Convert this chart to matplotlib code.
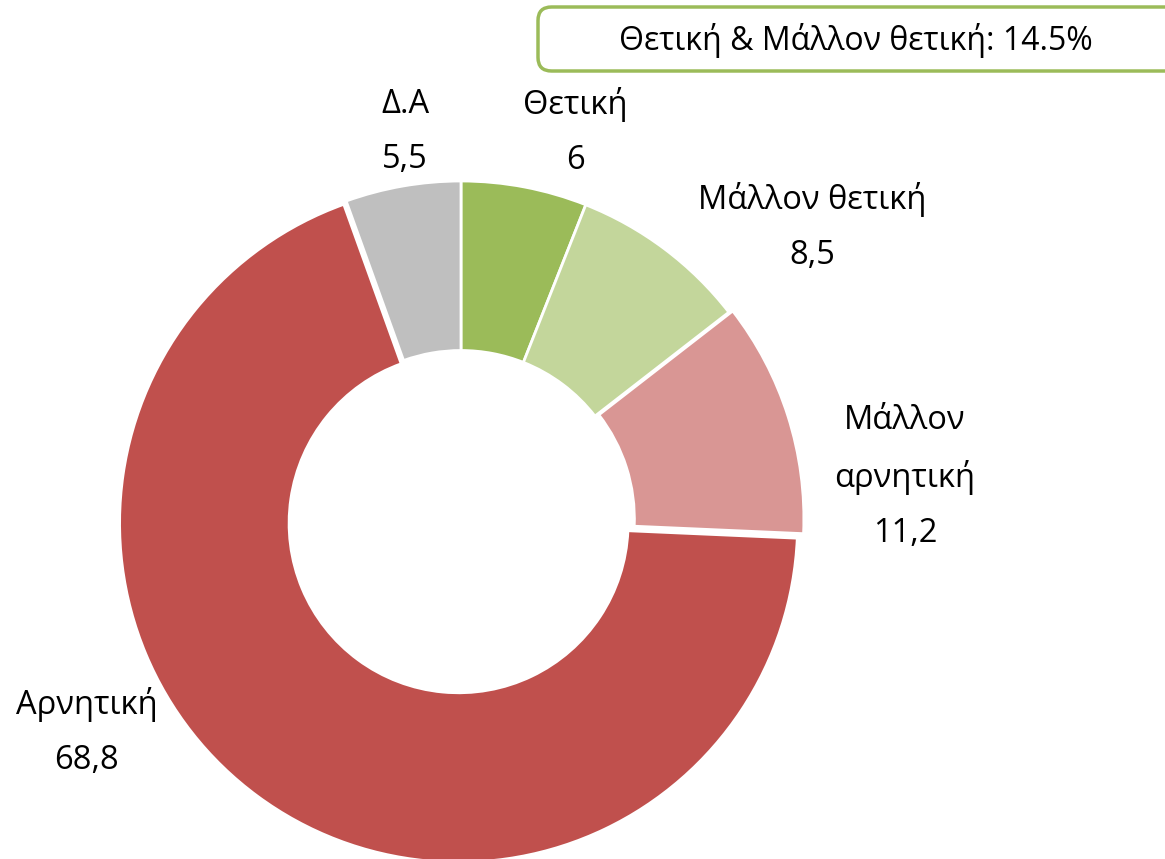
import matplotlib
matplotlib.use("Agg")
import matplotlib.pyplot as plt
from matplotlib.patches import FancyBboxPatch

plt.rcParams['font.family'] = ['Open Sans', 'DejaVu Sans']

categories = ['Θετική', 'Μάλλον θετική', 'Μάλλον αρνητική', 'Αρνητική', 'Δ.Α']
values = [6, 8.5, 11.2, 68.8, 5.5]
label_names = ['Θετική', 'Μάλλον θετική', 'Μάλλον\nαρνητική', 'Αρνητική', 'Δ.Α']
value_texts = ['6', '8,5', '11,2', '68,8', '5,5']
summary_text = 'Θετική & Μάλλον θετική: 14.5%'

colors = ['#9BBB59', '#C3D69B', '#D99694', '#C0504D', '#BFBFBF']
explode = [0, 0, 0.012, 0.012, 0]

W, H = 1165, 859
cx, cy, R = 461, 520, 339

fig = plt.figure(figsize=(W / 100, H / 100), dpi=100)
ax = fig.add_axes([0, 0, 1, 1])
ax.pie(values, colors=colors, startangle=90, counterclock=False,
       explode=explode, radius=1.0,
       wedgeprops=dict(width=0.5, edgecolor='white', linewidth=2))
ax.set_xlim(-cx / R, (W - cx) / R)
ax.set_ylim((cy - H) / R, cy / R)
ax.set_aspect('auto')
ax.axis('off')

def px(x, y):
    return ((x - cx) / R, (cy - y) / R)

label_px = [(575, 132), (812, 227), (905, 477), (87, 732), (405, 132)]
for name, val, (lx, ly) in zip(label_names, value_texts, label_px):
    x, y = px(lx, ly)
    ax.text(x, y, name + '\n' + val, ha='center', va='center',
            multialignment='center', fontsize=23.5, linespacing=1.85,
            color='black')

# summary box
bx0, by0 = px(538, 71)
bx1, by1 = px(1190, 7)
box = FancyBboxPatch((bx0, by0), bx1 - bx0, by1 - by0,
                     boxstyle='round,pad=0,rounding_size=0.04',
                     facecolor='white', edgecolor='#9BBB59', linewidth=2.5,
                     clip_on=False)
ax.add_patch(box)
tx, ty = px(856, 40)
ax.text(tx, ty, summary_text, ha='center', va='center', fontsize=23,
        color='black')

fig.savefig('out.png', dpi=100)
